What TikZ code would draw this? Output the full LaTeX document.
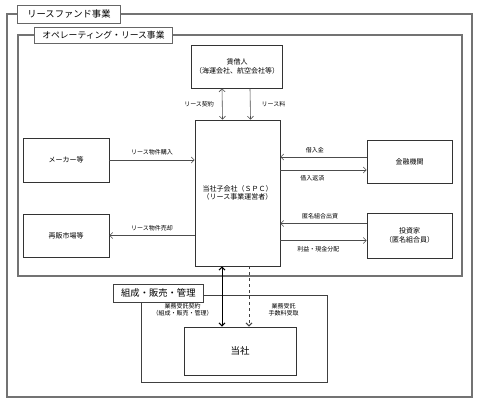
\documentclass[tikz,border=0pt]{standalone}
\usepackage{fontspec}
\setmainfont{Noto Sans CJK JP}
\usetikzlibrary{arrows.meta,positioning}

\begin{document}
\begin{tikzpicture}[x=1pt,y=-1pt,
	frame/.style={draw=black!55,line width=1.3pt},
	tag/.style={draw=black!60,line width=0.9pt,fill=white,anchor=west,inner sep=2pt,font=\fontsize{9.3}{10}\selectfont},
	box/.style={draw=black!80,line width=0.7pt,align=center,font=\fontsize{7}{8.5}\selectfont},
	flow/.style={draw=black!70,line width=0.6pt,-{Straight Barb[length=3pt,width=6pt]}},
	lbl/.style={font=\fontsize{6}{7}\selectfont,align=center,inner sep=1pt}]
	\useasboundingbox (0,0) rectangle (481,404);
	% frames
	\draw[frame] (7,14) rectangle (472,397);
	\node[tag,minimum width=103pt,minimum height=18pt] (fund) at (17,14) {リースファンド事業};
	\draw[frame] (18,35) rectangle (462,276);
	\node[tag,minimum width=138pt,minimum height=16pt,font=\fontsize{8.8}{10}\selectfont] (oplease) at (34,35) {オペレーティング・リース事業};
	\draw[draw=black!75,line width=0.8pt] (141,295) rectangle (327,382);
	\node[tag,line width=0.7pt,draw=black!75,minimum width=90pt,minimum height=18pt] (arrange) at (113,293) {組成・販売・管理};
	% boxes
	\node[box,minimum width=84pt,minimum height=43pt] (lessee) at (237,66.5) {賃借人\\（海運会社、航空会社等）};
	\node[box,minimum width=85pt,minimum height=146pt] (spc) at (237.5,193) {当社子会社（ＳＰＣ）\\（リース事業運営者）};
	\node[box,minimum width=86pt,minimum height=44pt] (maker) at (66,160) {メーカー等};
	\node[box,minimum width=86pt,minimum height=43pt] (resale) at (66,235.5) {再販市場等};
	\node[box,minimum width=85pt,minimum height=43pt] (bank) at (409.5,161.5) {金融機関};
	\node[box,minimum width=85pt,minimum height=45pt] (investor) at (409.5,235.5) {投資家\\（匿名組合員）};
	\node[box,minimum width=112pt,minimum height=48pt,font=\fontsize{9.5}{11}\selectfont] (tosha) at (240,351) {当社};
	% lessee - spc
	\draw[flow,{Straight Barb[length=3pt,width=6pt]}-{Straight Barb[length=3pt,width=6pt]}] ([xshift=-15pt]lessee.south) -- ([xshift=-15pt]spc.north) node[lbl,midway,left=7pt] {リース契約};
	\draw[flow] ([xshift=13pt]lessee.south) -- ([xshift=13pt]spc.north) node[lbl,midway,right=10pt] {リース料};
	% left side
	\draw[flow] (maker.east) -- (maker.east -| spc.west) node[lbl,midway,above=4pt] {リース物件購入};
	\draw[flow] (resale.east -| spc.west) -- (resale.east) node[lbl,midway,above=3pt] {リース物件売却};
	% right side
	\draw[flow] ([yshift=4.5pt]bank.west) -- ([yshift=4.5pt]bank.west -| spc.east) node[lbl,pos=0.6,above=3pt] {借入金};
	\draw[flow] ([yshift=-8.5pt]bank.west -| spc.east) -- ([yshift=-8.5pt]bank.west) node[lbl,pos=0.37,below=4pt] {借入返済};
	\draw[flow] ([yshift=12pt]investor.west) -- ([yshift=12pt]investor.west -| spc.east) node[lbl,pos=0.54,above=3pt] {匿名組合出資};
	\draw[flow] ([yshift=-5pt]investor.west -| spc.east) -- ([yshift=-5pt]investor.west) node[lbl,pos=0.44,below=5pt] {利益・現金分配};
	% spc - tosha
	\draw[line width=1pt,{Straight Barb[length=3pt,width=6pt]}-{Straight Barb[length=3pt,width=6pt]}] ([xshift=-15.5pt]spc.south) -- ([xshift=-15.5pt]spc.south |- tosha.north) node[lbl,pos=0.72,left=8pt] {業務受託契約\\（組成・販売・管理）};
	\draw[draw=black!75,line width=1pt,dashed,-{Straight Barb[length=3pt,width=6pt]}] ([xshift=11.5pt]spc.south) -- ([xshift=11.5pt]spc.south |- tosha.north) node[lbl,pos=0.72,right=18pt] {業務受託\\手数料受取};
\end{tikzpicture}
\end{document}
